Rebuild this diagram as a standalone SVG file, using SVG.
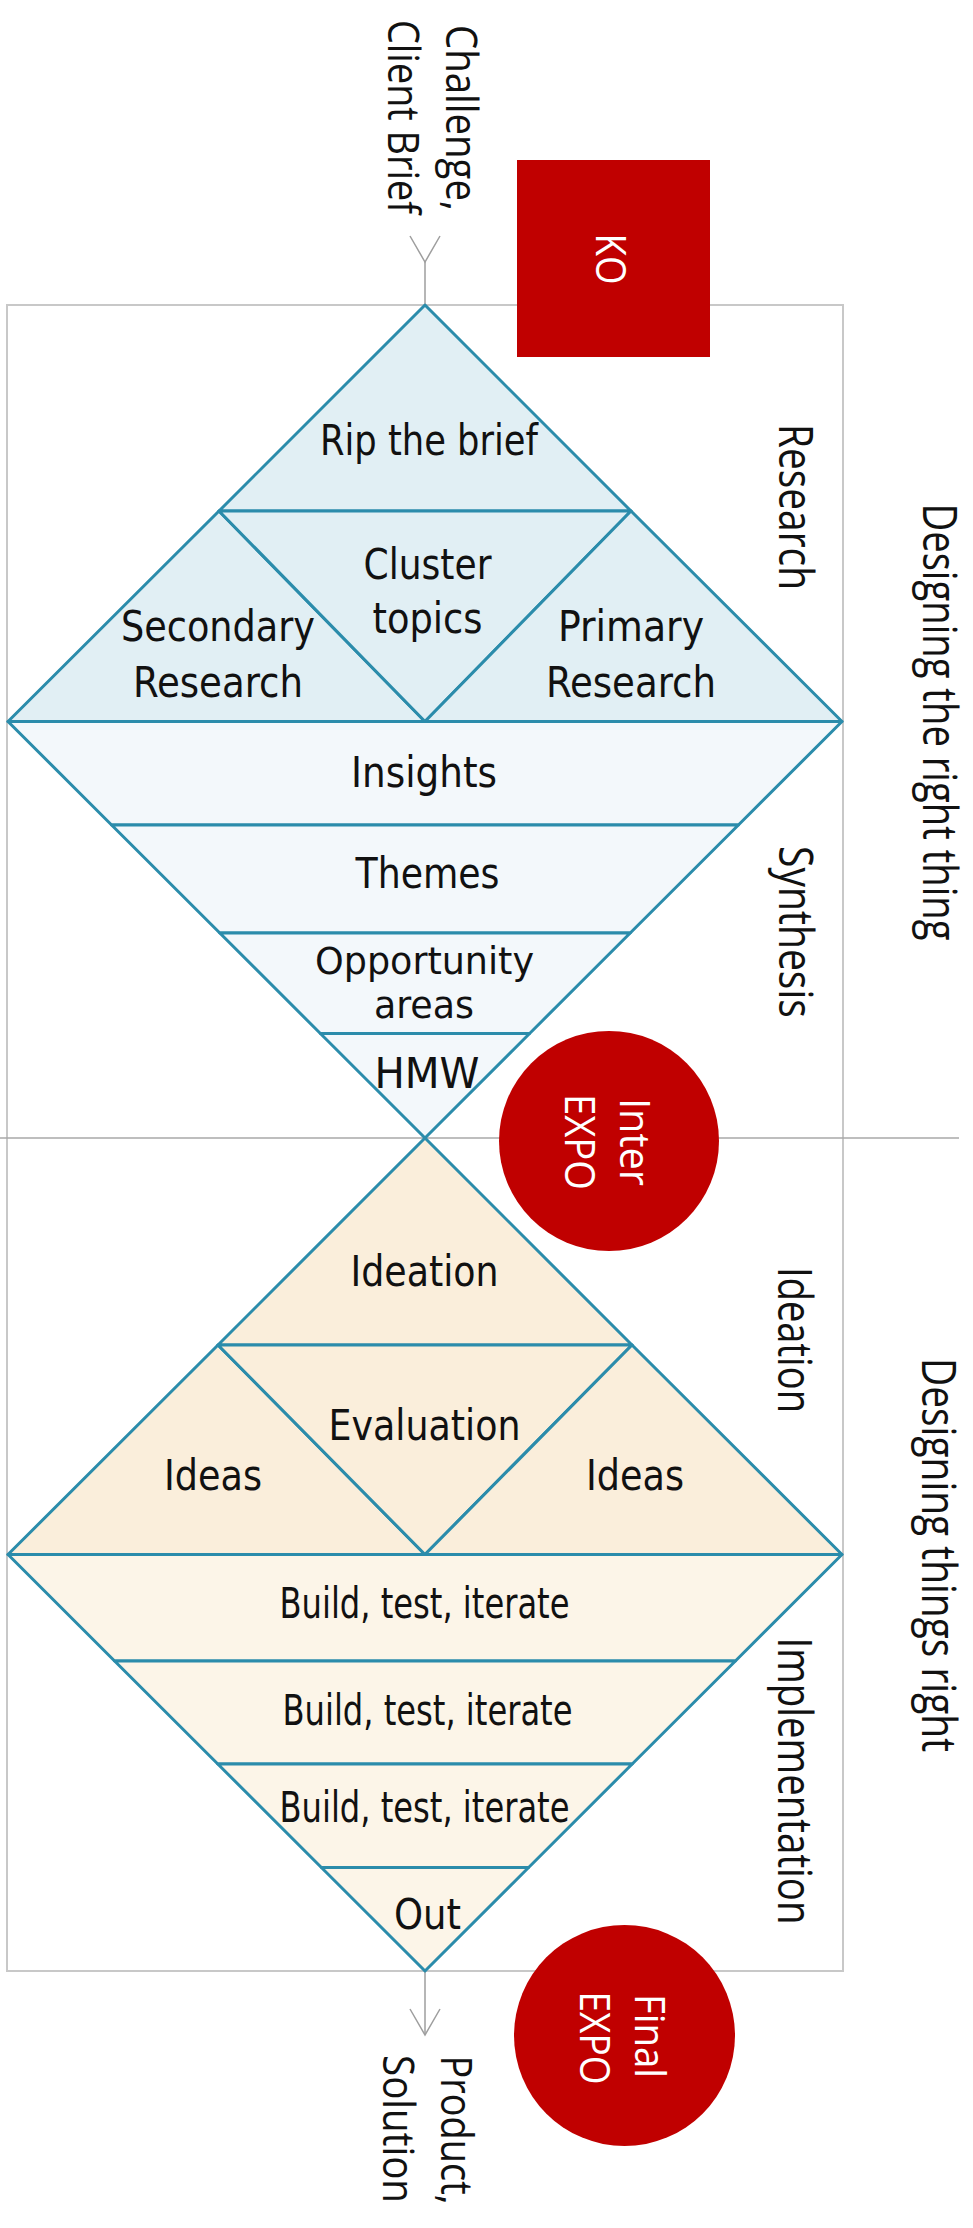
<svg xmlns="http://www.w3.org/2000/svg" width="973" height="2228" viewBox="0 0 973 2228">
<defs>
<style>
.frame{fill:none;stroke:#c8c8c8;stroke-width:2}
.divider{stroke:#a8a8a8;stroke-width:1.5}
.seg{stroke:#2b8cab;stroke-width:3;stroke-linejoin:round}
.b1{fill:#e1eff4}
.b2{fill:#f3f8fb}
.o1{fill:#faeedb}
.o2{fill:#fcf5e8}
.t{font-family:'DejaVu Sans Condensed','Liberation Sans',sans-serif;font-size:42px;fill:#111;text-anchor:middle}
.s{font-size:37px}
.r{font-family:'Open Sans','Noto Sans',sans-serif;font-size:44px;fill:#111;text-anchor:middle}
.rl{font-size:48px}
.w{fill:#fff;font-size:42px}
.red{fill:#c00000}
.arr{stroke:#9e9e9e;stroke-width:1.5;fill:none}
</style>
<marker id="ah" markerUnits="userSpaceOnUse" markerWidth="40" markerHeight="40" refX="0" refY="0" orient="auto" overflow="visible">
<path d="M-26,-15 L0,0 L-26,15" fill="none" stroke="#9e9e9e" stroke-width="1.5"/>
</marker>
</defs>
<rect width="973" height="2228" fill="#fff"/>

<g id="frame">
<rect class="frame" x="7" y="305" width="836" height="1666"/>
<line class="divider" x1="0" y1="1138" x2="959" y2="1138"/>
</g>

<g id="connectors">
<line class="arr" x1="425" y1="262" x2="425" y2="305" marker-start="url(#ah)"/>
<line class="arr" x1="425" y1="1971" x2="425" y2="2035" marker-end="url(#ah)"/>
</g>

<g id="rip-the-brief">
<polygon class="b1 seg" points="425,305 631,511 219,511"/>
<text class="t" x="429" y="455" textLength="218" lengthAdjust="spacingAndGlyphs">Rip the brief</text>
</g>
<g id="secondary-research">
<polygon class="b1 seg" points="219,511 425,721.5 8,721.5"/>
<text class="t" x="218" y="641" textLength="194" lengthAdjust="spacingAndGlyphs">Secondary</text>
<text class="t" x="218" y="697" textLength="170" lengthAdjust="spacingAndGlyphs">Research</text>
</g>
<g id="cluster-topics">
<polygon class="b1 seg" points="219,511 631,511 425,721.5"/>
<text class="t" x="427.5" y="579" textLength="128" lengthAdjust="spacingAndGlyphs">Cluster</text>
<text class="t" x="427.5" y="633" textLength="110" lengthAdjust="spacingAndGlyphs">topics</text>
</g>
<g id="primary-research">
<polygon class="b1 seg" points="631,511 842,721.5 425,721.5"/>
<text class="t" x="631" y="641" textLength="146" lengthAdjust="spacingAndGlyphs">Primary</text>
<text class="t" x="631" y="697" textLength="170" lengthAdjust="spacingAndGlyphs">Research</text>
</g>

<g id="insights">
<polygon class="b2 seg" points="8,721.5 842,721.5 738.4,825 111.6,825"/>
<text class="t" x="424" y="787" textLength="146" lengthAdjust="spacingAndGlyphs">Insights</text>
</g>
<g id="themes">
<polygon class="b2 seg" points="111.6,825 738.4,825 630.2,933 219.8,933"/>
<text class="t" x="427.5" y="888" textLength="144" lengthAdjust="spacingAndGlyphs">Themes</text>
</g>
<g id="opportunity-areas">
<polygon class="b2 seg" points="219.8,933 630.2,933 529.6,1033.5 320.4,1033.5"/>
<text class="t s" x="424.5" y="974" textLength="219" lengthAdjust="spacingAndGlyphs">Opportunity</text>
<text class="t s" x="424" y="1018" textLength="100" lengthAdjust="spacingAndGlyphs">areas</text>
</g>
<g id="hmw">
<polygon class="b2 seg" points="320.4,1033.5 529.6,1033.5 425,1138"/>
<text class="t" x="427" y="1088" textLength="105" lengthAdjust="spacingAndGlyphs">HMW</text>
</g>

<g id="ideation">
<polygon class="o1 seg" points="425,1138 632,1345 218,1345"/>
<text class="t" x="424.5" y="1285.5" textLength="148" lengthAdjust="spacingAndGlyphs">Ideation</text>
</g>
<g id="ideas-left">
<polygon class="o1 seg" points="218,1345 425,1554.5 8,1554.5"/>
<text class="t" x="213" y="1490" textLength="98" lengthAdjust="spacingAndGlyphs">Ideas</text>
</g>
<g id="evaluation">
<polygon class="o1 seg" points="218,1345 632,1345 425,1554.5"/>
<text class="t" x="424.5" y="1440" textLength="192" lengthAdjust="spacingAndGlyphs">Evaluation</text>
</g>
<g id="ideas-right">
<polygon class="o1 seg" points="632,1345 842,1554.5 425,1554.5"/>
<text class="t" x="635" y="1490" textLength="98" lengthAdjust="spacingAndGlyphs">Ideas</text>
</g>

<g id="build-1">
<polygon class="o2 seg" points="8,1554.5 842,1554.5 735.4,1661 114.6,1661"/>
<text class="t" x="424.5" y="1618" textLength="290" lengthAdjust="spacingAndGlyphs">Build, test, iterate</text>
</g>
<g id="build-2">
<polygon class="o2 seg" points="114.6,1661 735.4,1661 632.2,1764 217.8,1764"/>
<text class="t" x="427.5" y="1724.5" textLength="290" lengthAdjust="spacingAndGlyphs">Build, test, iterate</text>
</g>
<g id="build-3">
<polygon class="o2 seg" points="217.8,1764 632.2,1764 528.6,1867.5 321.4,1867.5"/>
<text class="t" x="424.5" y="1821.5" textLength="290" lengthAdjust="spacingAndGlyphs">Build, test, iterate</text>
</g>
<g id="out">
<polygon class="o2 seg" points="321.4,1867.5 528.6,1867.5 425,1971"/>
<text class="t" x="427.5" y="1929" textLength="67" lengthAdjust="spacingAndGlyphs">Out</text>
</g>

<g id="input-label">
<text class="r" transform="translate(446,118) rotate(90)" textLength="186" lengthAdjust="spacingAndGlyphs">Challenge,</text>
<text class="r" transform="translate(388,117) rotate(90)" textLength="194" lengthAdjust="spacingAndGlyphs">Client Brief</text>
</g>
<g id="output-label">
<text class="r" transform="translate(441,2130) rotate(90)" textLength="149" lengthAdjust="spacingAndGlyphs">Product,</text>
<text class="r" transform="translate(383,2129) rotate(90)" textLength="148" lengthAdjust="spacingAndGlyphs">Solution</text>
</g>

<g id="phase-labels">
<text class="r rl" transform="translate(779,507) rotate(90)" textLength="166" lengthAdjust="spacingAndGlyphs">Research</text>
<text class="r rl" transform="translate(779,932) rotate(90)" textLength="172" lengthAdjust="spacingAndGlyphs">Synthesis</text>
<text class="r rl" transform="translate(778,1340) rotate(90)" textLength="146" lengthAdjust="spacingAndGlyphs">Ideation</text>
<text class="r rl" transform="translate(778,1781) rotate(90)" textLength="287" lengthAdjust="spacingAndGlyphs">Implementation</text>
</g>
<g id="stage-labels">
<text class="r rl" transform="translate(923,722) rotate(90)" textLength="437" lengthAdjust="spacingAndGlyphs">Designing the right thing</text>
<text class="r rl" transform="translate(922,1555) rotate(90)" textLength="394" lengthAdjust="spacingAndGlyphs">Designing things right</text>
</g>

<g id="ko">
<rect class="red" x="517" y="160" width="193" height="197"/>
<text class="r w" transform="translate(596,259) rotate(90)" textLength="51" lengthAdjust="spacingAndGlyphs">KO</text>
</g>
<g id="inter-expo">
<circle class="red" cx="609" cy="1141" r="110"/>
<text class="r w" transform="translate(620,1142) rotate(90)" textLength="88" lengthAdjust="spacingAndGlyphs">Inter</text>
<text class="r w" transform="translate(565,1142) rotate(90)" textLength="96" lengthAdjust="spacingAndGlyphs">EXPO</text>
</g>
<g id="final-expo">
<circle class="red" cx="624.5" cy="2035.5" r="110.5"/>
<text class="r w" transform="translate(635,2036) rotate(90)" textLength="84" lengthAdjust="spacingAndGlyphs">Final</text>
<text class="r w" transform="translate(580,2038) rotate(90)" textLength="93" lengthAdjust="spacingAndGlyphs">EXPO</text>
</g>
</svg>
